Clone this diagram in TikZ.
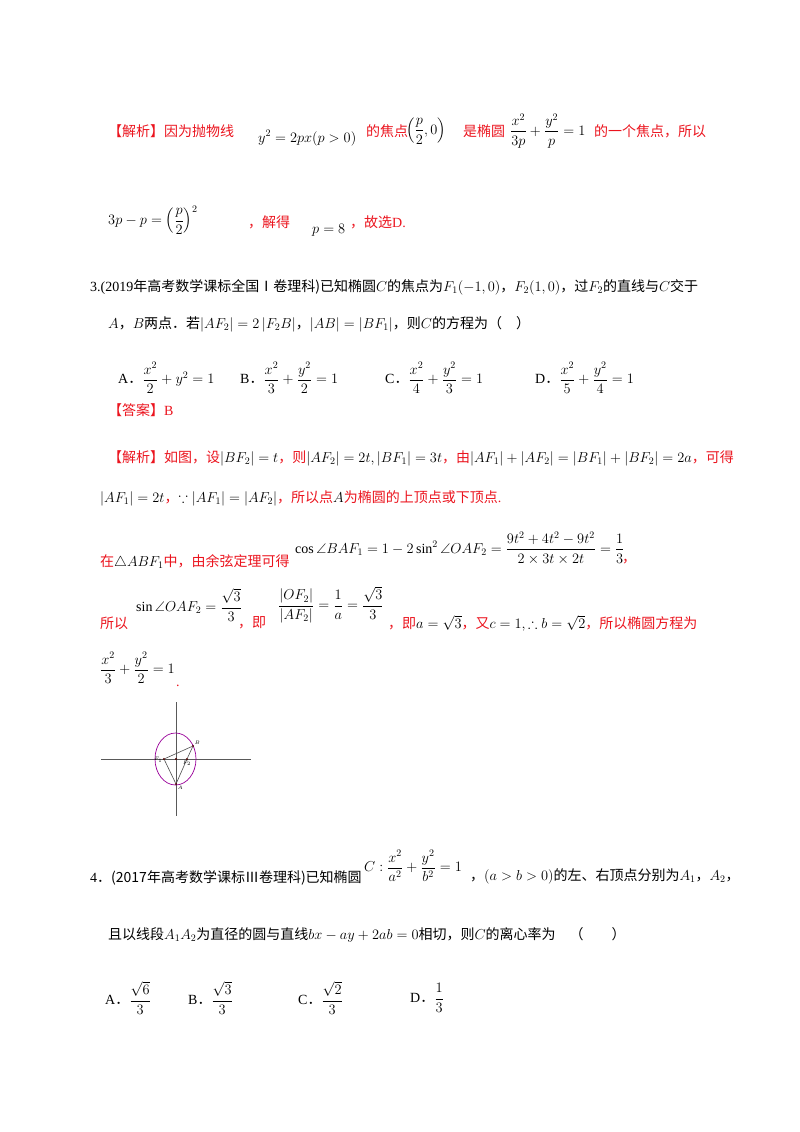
\documentclass[tikz,border=0pt]{standalone}
\usepackage{fontspec}
\usepackage{amsmath,amssymb}
\setmainfont{Liberation Serif}
\newfontfamily\cjk{Noto Sans CJK SC}
\definecolor{ansred}{RGB}{235,20,30}
\newcommand{\zh}[1]{{\cjk #1}}
\tikzset{t/.style={anchor=west,inner sep=0pt,font=\fontsize{14}{17}\selectfont},
 r/.style={t,text=ansred},
 pt/.style={circle,fill=black!70!red,inner sep=0pt,minimum size=2.2pt}}
\begin{document}
\begin{tikzpicture}[x=1pt,y=-1pt]
\useasboundingbox (0,0) rectangle (800,1132);
% line 1
\node[r] (l1a) at (108,131) {\zh{【解析】因为抛物线}};
\node[t] (l1b) at (258,138) {$y^2=2px(p>0)$};
\node[r] (l1c) at (366,131) {\zh{的焦点}};
\node[t] (l1d) at (406,131) {$\left(\dfrac{p}{2},0\right)$};
\node[r] (l1e) at (463,131) {\zh{是椭圆}};
\node[t] (l1f) at (510,131) {$\dfrac{x^2}{3p}+\dfrac{y^2}{p}=1$};
\node[r] (l1g) at (594,131) {\zh{的一个焦点，所以}};
% line 2
\node[t] (l2a) at (108,220) {$3p-p=\left(\dfrac{p}{2}\right)^2$};
\node[r] (l2b) at (248,222) {\zh{，解得}};
\node[t] (l2c) at (312,230) {$p=8$};
\node[r] (l2d) at (350,222) {\zh{，故选}D.};
% problem 3
\node[t] (p3a) at (90,287) {3.(2019\zh{年高考数学课标全国Ⅰ卷理科)已知椭圆}$C$\zh{的焦点为}$F_1(-1,0)$\zh{，}$F_2(1,0)$\zh{，过}$F_2$\zh{的直线与}$C$\zh{交于}};
\node[t] (p3b) at (108,324) {$A$\zh{，}$B$\zh{两点．若}$\left|AF_2\right|=2\left|F_2B\right|$\zh{，}$\left|AB\right|=\left|BF_1\right|$\zh{，则}$C$\zh{的方程为（\quad ）}};
\node[t] (oA) at (118,378) {A\zh{．}$\dfrac{x^2}{2}+y^2=1$};
\node[t] (oB) at (240,378) {B\zh{．}$\dfrac{x^2}{3}+\dfrac{y^2}{2}=1$};
\node[t] (oC) at (385,378) {C\zh{．}$\dfrac{x^2}{4}+\dfrac{y^2}{3}=1$};
\node[t] (oD) at (535,378) {D\zh{．}$\dfrac{x^2}{5}+\dfrac{y^2}{4}=1$};
\node[r] (ans) at (108,410) {\zh{【答案】}B};
\node[r] (s1) at (108,458) {\zh{【解析】如图，设}\textcolor{black}{$\left|BF_2\right|=t$}\zh{，则}\textcolor{black}{$\left|AF_2\right|=2t,\left|BF_1\right|=3t$}\zh{，由}\textcolor{black}{$\left|AF_1\right|+\left|AF_2\right|=\left|BF_1\right|+\left|BF_2\right|=2a$}\zh{，可得}};
\node[r] (s2) at (100,498) {\textcolor{black}{$\left|AF_1\right|=2t$}\zh{，}\textcolor{black}{$\because\left|AF_1\right|=\left|AF_2\right|$}\zh{，所以点}\textcolor{black}{$A$}\zh{为椭圆的上顶点或下顶点}.};
\node[r] (s3a) at (100,562) {\zh{在}\textcolor{black}{$\triangle ABF_1$}\zh{中，由余弦定理可得}};
\node[t] (s3b) at (295,548) {$\cos\angle BAF_1=1-2\sin^2\angle OAF_2=\dfrac{9t^2+4t^2-9t^2}{2\times3t\times2t}=\dfrac{1}{3}$};
\node[r] at (622,562) {\zh{，}};
\node[r] (s4a) at (100,623) {\zh{所以}};
\node[t] (s4b) at (136,605) {$\sin\angle OAF_2=\dfrac{\sqrt3}{3}$};
\node[r] (s4c) at (238,623) {\zh{，即}};
\node[t] (s4d) at (278,605) {$\dfrac{\left|OF_2\right|}{\left|AF_2\right|}=\dfrac{1}{a}=\dfrac{\sqrt3}{3}$};
\node[r] (s4e) at (388,623) {\zh{，即}\textcolor{black}{$a=\sqrt3$}\zh{，又}\textcolor{black}{$c=1,\therefore b=\sqrt2$}\zh{，所以椭圆方程为}};
\node[t] (s5) at (100,668) {$\dfrac{x^2}{3}+\dfrac{y^2}{2}=1$};
\node[r] at (176,686) {.};
% figure
\coordinate (xl) at (101,759); \coordinate (xr) at (251,759);
\coordinate (yt) at (176,702); \coordinate (yb) at (176,816);
\draw[gray!70!black,line width=0.6pt] (xl) -- (xr);
\draw[gray!70!black,line width=0.6pt] (yt) -- (yb);
\draw[violet!80!magenta,line width=0.7pt] (175.5,759) ellipse (20.5 and 26);
\node[pt] (F1) at (164,759) {}; \node[pt] (O) at (176,759) {};
\node[pt] (F2) at (187,759) {}; \node[pt] (A) at (176,784) {};
\node[pt] (B) at (193,746) {};
\draw[gray!60!black,line width=0.6pt] (F1) -- (B) -- (F2) -- (A) -- (F1);
\node[font=\tiny,inner sep=0.5pt,anchor=east] at (F1.south west) {$F_1$};
\node[font=\tiny,inner sep=0.5pt,anchor=north] at (F2.south) {$F_2$};
\node[font=\tiny,inner sep=0.5pt,anchor=south west] at (B.north east) {$B$};
\node[font=\tiny,inner sep=0.5pt,anchor=north west] at (A.south east) {$A$};
% problem 4
\node[t] (p4a) at (90,878) {4\zh{．(2017年高考数学课标Ⅲ卷理科)已知椭圆}};
\node[t] (p4b) at (364,866) {$C:\dfrac{x^2}{a^2}+\dfrac{y^2}{b^2}=1$};
\node[t] (p4c) at (470,876) {\zh{，}$(a>b>0)$\zh{的左、右顶点分别为}$A_1$\zh{，}$A_2$\zh{，}};
\node[t] (p4d) at (108,935) {\zh{且以线段}$A_1A_2$\zh{为直径的圆与直线}$bx-ay+2ab=0$\zh{相切，则}$C$\zh{的离心率为\quad（\qquad ）}};
\node[t] (qA) at (105,998) {A\zh{．}$\dfrac{\sqrt6}{3}$};
\node[t] (qB) at (188,998) {B\zh{．}$\dfrac{\sqrt3}{3}$};
\node[t] (qC) at (298,998) {C\zh{．}$\dfrac{\sqrt2}{3}$};
\node[t] (qD) at (410,998) {D\zh{．}$\dfrac{1}{3}$};
\end{tikzpicture}
\end{document}
